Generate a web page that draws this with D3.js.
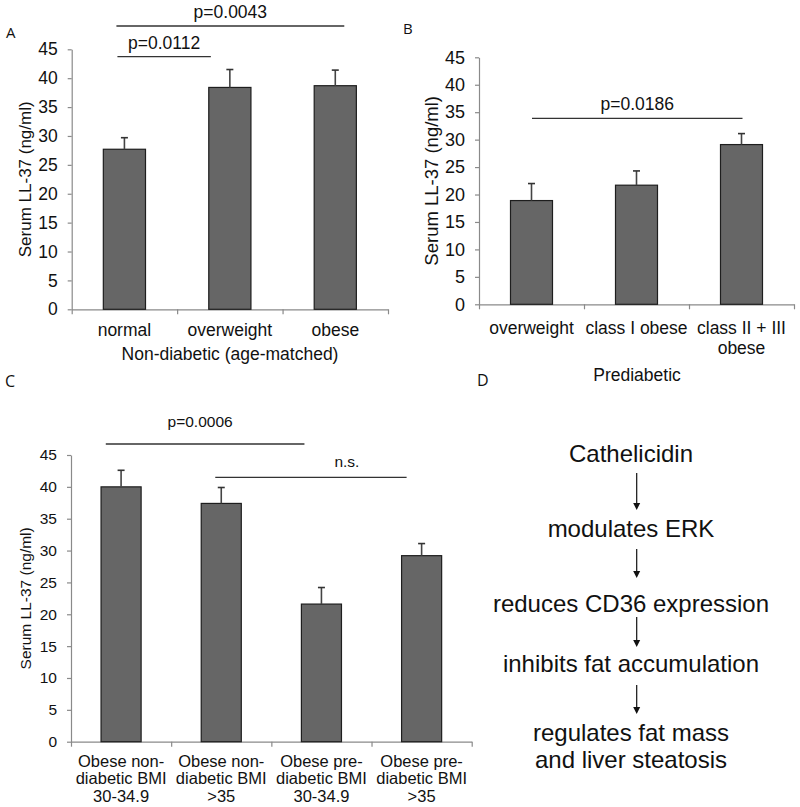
<!DOCTYPE html>
<html><head><meta charset="utf-8">
<script src="https://cdn.jsdelivr.net/npm/d3@7"></script>
<style>
html,body{margin:0;padding:0;background:#fff;}
svg text{font-family:"Liberation Sans",Arial,sans-serif;fill:#111;}
</style></head>
<body>
<svg id="chart" width="800" height="807"></svg>
<script>
// ---------- DATA ----------
const yTicks = [0, 5, 10, 15, 20, 25, 30, 35, 40, 45];

const catsA = [["normal"], ["overweight"], ["obese"]];
const valsA = [27.7, 38.4, 38.7];
const errA  = [2.0, 3.1, 2.7];
const sigA  = [{from: 0, to: 1, label: "p=0.0112"}, {from: 0, to: 2, label: "p=0.0043"}];
const groupA = "Non-diabetic (age-matched)";

const catsB = [["overweight"], ["class I obese"], ["class II + III", "obese"]];
const valsB = [18.9, 21.7, 29.1];
const errB  = [3.1, 2.6, 2.0];
const sigB  = [{from: 0, to: 2, label: "p=0.0186"}];
const groupB = "Prediabetic";

const catsC = [["Obese non-", "diabetic BMI", "30-34.9"], ["Obese non-", "diabetic BMI", ">35"],
               ["Obese pre-", "diabetic BMI", "30-34.9"], ["Obese pre-", "diabetic BMI", ">35"]];
const valsC = [40.0, 37.4, 21.6, 29.2];
const errC  = [2.6, 2.5, 2.6, 1.9];
const sigC  = [{from: 0, to: 2, label: "p=0.0006"}, {from: 1, to: 3, label: "n.s."}];

const yLabel = "Serum LL-37 (ng/ml)";
const flowSteps = [["Cathelicidin"], ["modulates ERK"], ["reduces CD36 expression"],
                   ["inhibits fat accumulation"], ["regulates fat mass", "and liver steatosis"]];
const panelLabels = ["A", "B", "C", "D"];

// ---------- DRAWING ----------
const svg = d3.select("#chart");
const AXIS = "#8a8a8a";

function panel(cfg) {
  const g = svg.append("g");
  const n = cfg.cats.length;
  const x = d3.scaleLinear().domain([0, n]).range([cfg.x0, cfg.x1]);
  const y = d3.scaleLinear().domain([0, 45]).range([cfg.yb, cfg.yt]);
  const bw = (x(1) - x(0)) * 0.4;
  const xc = i => x(i + 0.5);

  // y axis
  const ya = g.append("g").attr("transform", `translate(${cfg.x0},0)`)
    .call(d3.axisLeft(y).tickValues(yTicks).tickSize(4).tickPadding(cfg.tickPad).tickSizeOuter(0));
  ya.select(".domain").attr("stroke", AXIS).attr("stroke-width", 1.2);
  ya.selectAll(".tick line").attr("stroke", AXIS).attr("stroke-width", 1.2);
  ya.selectAll(".tick text").style("font-size", cfg.tickFs + "px").attr("fill", "#111")
    .style("font-family", '"Liberation Sans",Arial,sans-serif');

  // x axis (ticks at category boundaries)
  const xa = g.append("g").attr("transform", `translate(0,${cfg.yb})`)
    .call(d3.axisBottom(x).tickValues(d3.range(0, n + 1)).tickSize(5).tickSizeOuter(0).tickFormat(""));
  xa.select(".domain").attr("stroke", AXIS).attr("stroke-width", 1.2);
  xa.selectAll(".tick line").attr("stroke", AXIS).attr("stroke-width", 1.2);

  // bars
  g.selectAll("rect.bar").data(cfg.vals).join("rect").attr("class", "bar")
    .attr("x", (d, i) => xc(i) - bw / 2).attr("width", bw)
    .attr("y", d => y(d)).attr("height", d => y(0) - y(d))
    .attr("fill", "#666666").attr("stroke", "#1e1e1e").attr("stroke-width", 1.2);

  // error bars
  const eg = g.selectAll("g.err").data(cfg.vals).join("g").attr("class", "err");
  eg.append("line").attr("x1", (d, i) => xc(i)).attr("x2", (d, i) => xc(i))
    .attr("y1", d => y(d)).attr("y2", (d, i) => y(d + cfg.err[i]))
    .attr("stroke", "#444").attr("stroke-width", 1.6);
  eg.append("line").attr("x1", (d, i) => xc(i) - 3.5).attr("x2", (d, i) => xc(i) + 3.5)
    .attr("y1", (d, i) => y(d + cfg.err[i])).attr("y2", (d, i) => y(d + cfg.err[i]))
    .attr("stroke", "#333").attr("stroke-width", 1.6);

  // category labels
  cfg.cats.forEach((lines, i) => {
    const t = g.append("text").attr("text-anchor", "middle").style("font-size", cfg.catFs + "px");
    lines.forEach((ln, k) => t.append("tspan").attr("x", xc(i)).attr("y", cfg.catY + k * cfg.catLh).text(ln));
  });
  if (cfg.group) {
    g.append("text").attr("text-anchor", "middle").attr("x", cfg.groupX).attr("y", cfg.groupY)
      .style("font-size", cfg.groupFs + "px").text(cfg.group);
  }

  // y label
  g.append("text").attr("text-anchor", "middle")
    .attr("transform", `translate(${cfg.ylx},${(cfg.yb + cfg.yt) / 2 + cfg.yly}) rotate(-90)`)
    .style("font-size", cfg.ylFs + "px").text(yLabel);

  // significance lines
  cfg.sig.forEach((s, k) => {
    const sp = cfg.sigPos[k];
    g.append("line").attr("x1", xc(s.from) - sp.l).attr("x2", xc(s.to) + sp.r)
      .attr("y1", sp.y).attr("y2", sp.y).attr("stroke", "#333").attr("stroke-width", 1.3);
    g.append("text").attr("text-anchor", "middle").attr("x", (xc(s.from) - sp.l + xc(s.to) + sp.r) / 2 + sp.dx)
      .attr("y", sp.ty).style("font-size", cfg.sigFs + "px").text(s.label);
  });
}

panel({cats: catsA, vals: valsA, err: errA, sig: sigA, group: groupA,
  x0: 71.7, x1: 388, yb: 309.3, yt: 49.3, tickFs: 17.5, tickPad: 10,
  catFs: 17.5, catY: 336, catLh: 20, groupX: 230, groupY: 360, groupFs: 17.5,
  ylx: 31, yly: 0, ylFs: 17,
  sigFs: 17.5, sigPos: [{y: 56.7, l: 7, r: -19, ty: 49.3, dx: 0}, {y: 26, l: 8, r: 9, ty: 18, dx: 0}]});

panel({cats: catsB, vals: valsB, err: errB, sig: sigB, group: groupB,
  x0: 479, x1: 794, yb: 304.3, yt: 57.3, tickFs: 18, tickPad: 10,
  catFs: 17.5, catY: 333.5, catLh: 20.5, groupX: 637, groupY: 381, groupFs: 17.5,
  ylx: 438, yly: 0, ylFs: 18.5,
  sigFs: 17.5, sigPos: [{y: 118.3, l: -0.5, r: 1, ty: 110, dx: 0}]});

panel({cats: catsC, vals: valsC, err: errC, sig: sigC, group: null,
  x0: 71, x1: 471.7, yb: 741.7, yt: 455, tickFs: 15.5, tickPad: 10,
  catFs: 16.5, catY: 766.7, catLh: 17.5,
  ylx: 30.5, yly: 0, ylFs: 15.5,
  sigFs: 15.5, sigPos: [{y: 444, l: 15.3, r: -17, ty: 426.7, dx: -5}, {y: 477.3, l: 6, r: -15, ty: 466.7, dx: 36}]});

// panel letters
const letterPos = [[6, 38, 15], [403, 34, 15], [5, 387, 16], [477, 386, 16]];
panelLabels.forEach((l, i) => {
  svg.append("text").attr("x", letterPos[i][0]).attr("y", letterPos[i][1])
    .style("font-size", letterPos[i][2] + "px").style("font-family", '"Open Sans",sans-serif').text(l);
});

// flow diagram D
const flowY = [461.7, 536.7, 612.3, 672.3, 740.7];
const fx = 631;
flowSteps.forEach((lines, i) => {
  const t = svg.append("text").attr("text-anchor", "middle").style("font-size", "24px");
  lines.forEach((ln, k) => t.append("tspan").attr("x", fx).attr("y", flowY[i] + k * 27.6).text(ln));
});
const arrows = [[473, 510], [549, 578], [617, 647], [685, 714]];
const ax = 636.7;
arrows.forEach(([a, b]) => {
  svg.append("line").attr("x1", ax).attr("x2", ax).attr("y1", a).attr("y2", b - 6)
    .attr("stroke", "#111").attr("stroke-width", 1.2);
  svg.append("path").attr("d", `M${ax - 3.5},${b - 7}L${ax + 3.5},${b - 7}L${ax},${b}Z`).attr("fill", "#111");
});
</script>
</body></html>
